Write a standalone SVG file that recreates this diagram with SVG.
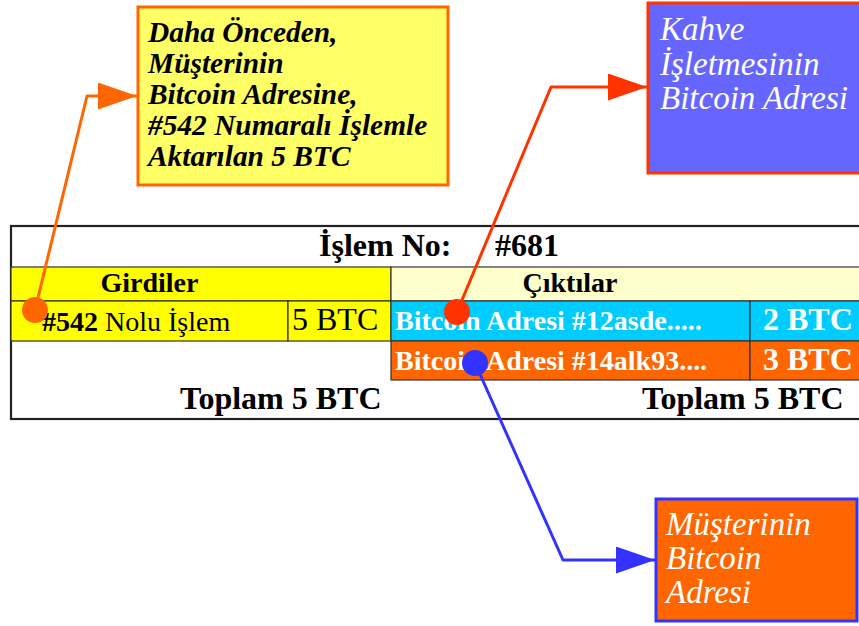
<svg xmlns="http://www.w3.org/2000/svg" width="859" height="626" viewBox="0 0 859 626">
<defs>
<style>
.serif{font-family:"Liberation Serif","Times New Roman",serif}
.b{font-weight:bold}
.bi{font-weight:bold;font-style:italic}
.it{font-style:italic}
.w{fill:#ffffff}
.k{fill:#000000}
.cell{stroke:#333333;stroke-width:1.2}
.conn{fill:none;stroke-width:3;stroke-linejoin:round}
</style>
<marker id="arrOrange" markerWidth="14" markerHeight="9" refX="13" refY="4.5" orient="auto" markerUnits="strokeWidth"><path d="M0,0 L13,4.5 L0,9 Z" fill="#ff6600"/></marker>
<marker id="arrRed" markerWidth="14" markerHeight="9" refX="13" refY="4.5" orient="auto" markerUnits="strokeWidth"><path d="M0,0 L13,4.5 L0,9 Z" fill="#ff3300"/></marker>
<marker id="arrBlue" markerWidth="14" markerHeight="9" refX="13" refY="4.5" orient="auto" markerUnits="strokeWidth"><path d="M0,0 L13,4.5 L0,9 Z" fill="#3333ff"/></marker>
</defs>
<rect width="859" height="626" fill="#ffffff"/>

<g id="table">
<rect x="11" y="226" width="870" height="193" fill="#ffffff" stroke="#222222" stroke-width="2.2"/>
<rect class="cell" x="11" y="267" width="380" height="34" fill="#ffff00"/>
<rect class="cell" x="391" y="267" width="490" height="34" fill="#ffffcc"/>
<rect class="cell" x="11" y="301" width="277" height="40" fill="#ffff00"/>
<rect class="cell" x="288" y="301" width="103" height="40" fill="#ffff00"/>
<rect class="cell" x="391" y="301" width="359" height="40" fill="#00ccff"/>
<rect class="cell" x="750" y="301" width="131" height="40" fill="#00ccff"/>
<rect class="cell" x="391" y="341" width="359" height="39" fill="#ff6600"/>
<rect class="cell" x="750" y="341" width="131" height="39" fill="#ff6600"/>
<text class="serif b k" x="319" y="256" font-size="32">İşlem No:</text>
<text class="serif b k" x="495" y="256" font-size="32">#681</text>
<text class="serif b k" x="149.5" y="292" font-size="28" text-anchor="middle">Girdiler</text>
<text class="serif b k" x="570" y="292" font-size="28" text-anchor="middle">Çıktılar</text>
<text class="serif k" x="42" y="331" font-size="28"><tspan font-weight="bold">#542</tspan> Nolu İşlem</text>
<text class="serif k" x="292" y="330" font-size="32">5 BTC</text>
<text class="serif b w" x="395" y="330" font-size="28">Bitcoin Adresi #12asde.....</text>
<text class="serif b w" x="763" y="330" font-size="32">2 BTC</text>
<text class="serif b w" x="395" y="370" font-size="28">Bitcoin Adresi #14alk93....</text>
<text class="serif b w" x="763" y="370" font-size="32">3 BTC</text>
<text class="serif b k" x="180" y="409" font-size="32">Toplam 5 BTC</text>
<text class="serif b k" x="642" y="409" font-size="32">Toplam 5 BTC</text>
</g>

<g id="node-onceki">
<rect x="138" y="7" width="310" height="178" fill="#ffff66" stroke="#ff6600" stroke-width="3"/>
<text class="serif bi k" font-size="29.4">
<tspan x="148" y="42">Daha Önceden,</tspan>
<tspan x="148" y="73">Müşterinin</tspan>
<tspan x="148" y="104">Bitcoin Adresine,</tspan>
<tspan x="148" y="135">#542 Numaralı İşlemle</tspan>
<tspan x="148" y="166">Aktarılan 5 BTC</tspan>
</text>
</g>

<g id="node-kahve">
<rect x="648" y="3" width="220" height="170" fill="#6666ff" stroke="#ff3300" stroke-width="3"/>
<text class="serif it w" font-size="33">
<tspan x="660" y="40">Kahve</tspan>
<tspan x="660" y="75">İşletmesinin</tspan>
<tspan x="660" y="109">Bitcoin Adresi</tspan>
</text>
</g>

<g id="node-musteri">
<rect x="656" y="499" width="201" height="122" fill="#ff6600" stroke="#3333ff" stroke-width="3"/>
<text class="serif it w" font-size="33">
<tspan x="666" y="535">Müşterinin</tspan>
<tspan x="666" y="569">Bitcoin</tspan>
<tspan x="666" y="603">Adresi</tspan>
</text>
</g>

<g id="connectors">
<path class="conn" d="M35,310 L87,96 L137,96" stroke="#ff6600" marker-end="url(#arrOrange)"/>
<circle cx="35" cy="310" r="13" fill="#ff6600"/>
<path class="conn" d="M457,312 L551,87 L647,87" stroke="#ff3300" marker-end="url(#arrRed)"/>
<circle cx="457" cy="312" r="13" fill="#ff3300"/>
<path class="conn" d="M475,363 L563,560 L655,560" stroke="#3333ff" marker-end="url(#arrBlue)"/>
<circle cx="475" cy="363" r="13" fill="#3333ff"/>
</g>
</svg>
